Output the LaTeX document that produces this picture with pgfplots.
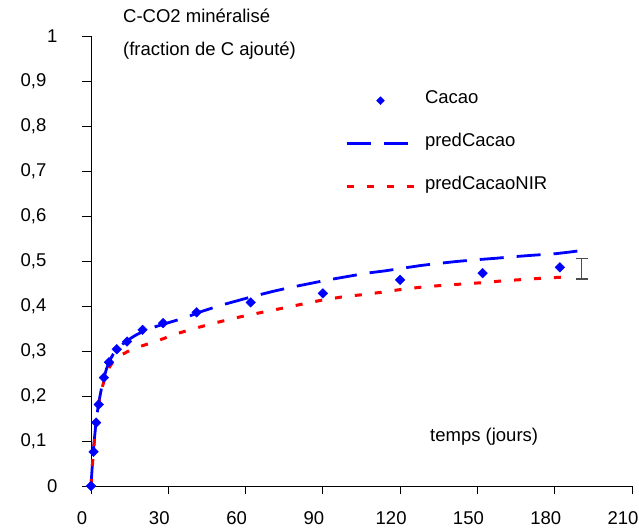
\documentclass[border=0pt]{standalone}
\usepackage{fontspec}
\setmainfont{Liberation Sans}
\usepackage{pgfplots}
\pgfplotsset{compat=1.18}
\pgfplotsset{
  mymarklegend/.style={legend image code/.code={\path (0bp,0bp) (68bp,0bp);
    \draw[##1, mark size=2.8bp] plot coordinates {(34bp,0bp)};}},
  mylinelegend/.style={legend image code/.code={\draw[##1] (0bp,0bp) -- (68bp,0bp);}},
}
\begin{document}
\fontsize{18.5bp}{22bp}\selectfont
\begin{tikzpicture}
\useasboundingbox (-91bp,-43bp) rectangle (548bp,486bp);
\begin{axis}[
  at={(0,0)}, anchor=south west,
  scale only axis, width=541bp, height=450bp,
  xmin=0, xmax=210, ymin=0, ymax=1,
  axis x line*=bottom, axis y line*=left,
  axis line style={-, black, line width=0.9bp},
  xtick={0,30,60,90,120,150,180,210},
  ytick={0,0.1,0.2,0.3,0.4,0.5,0.6,0.7,0.8,0.9,1},
  yticklabels={0,{0,1\kern11bp},{0,2\kern11bp},{0,3\kern11bp},{0,4\kern11bp},
    {0,5\kern11bp},{0,6\kern11bp},{0,7\kern11bp},{0,8\kern11bp},{0,9\kern11bp},1},
  tick align=outside, major tick length=8.5bp,
  tick style={black, line width=0.9bp},
  /pgf/number format/1000 sep={},
  /pgf/number format/assume math mode=true,
  xticklabel style={inner sep=0pt, xshift=-9bp},
  yticklabel style={inner sep=0pt},
  xticklabel shift=17bp,
  yticklabel shift=25bp,
  clip=false,
  legend cell align=left,
  legend style={draw=none, fill=none, inner sep=0pt, outer sep=0pt,
    at={(0.4695,0.8704)}, anchor=north west,
    row sep=30.2bp, column sep=9bp,
    nodes={inner sep=0pt, text height=9bp, text depth=3.8bp}},
]
\addplot[only marks, mark=square*, mark size=3.4bp,
  mark options={rotate=45, fill=blue, draw=blue}, mymarklegend]
coordinates {
(0,0) (1,0.076) (2,0.141) (3,0.181) (5,0.241) (7,0.275) (10,0.304)
(14,0.321) (20,0.347) (28,0.362) (41,0.386) (62,0.408) (90,0.428)
(120,0.458) (152,0.473) (182,0.486)
};
\addlegendentry{Cacao}
\addplot[blue, line width=2.8bp, dash pattern=on 24bp off 13bp, mark=none, mylinelegend]
coordinates {
(0,0) (0.5,0.045) (1,0.085) (2,0.145) (3,0.185) (4,0.215) (5,0.240)
(6,0.260) (7,0.275) (8.5,0.292) (10,0.303) (12,0.314) (14,0.323)
(17,0.334) (20,0.343) (25,0.354) (30.7,0.364) (36.5,0.374) (43,0.388)
(50,0.401) (57,0.412) (64,0.423) (71,0.433) (78,0.442) (85,0.450)
(92,0.458) (100,0.466) (107,0.473) (114,0.478) (121,0.484) (128,0.490)
(135.5,0.495) (142,0.499) (150,0.503) (157,0.506) (165,0.510)
(172,0.513) (180,0.516) (186,0.520) (190,0.523)
};
\addlegendentry{predCacao}
\addplot[red, line width=3bp, dash pattern=on 7bp off 13bp, mark=none, mylinelegend]
coordinates {
(0,0) (0.5,0.043) (1,0.080) (1.6,0.118) (2.4,0.160) (3.2,0.190)
(4.5,0.222) (5.5,0.243) (6.7,0.260) (8.5,0.276) (11.3,0.290) (15,0.301)
(19,0.310) (26,0.323) (33,0.338) (42,0.353) (50,0.365) (58,0.376)
(65.6,0.385) (73.4,0.394) (81.8,0.404) (89.6,0.413) (97.3,0.420)
(105,0.425) (113.5,0.431) (120.6,0.437) (128.4,0.442) (136.8,0.446)
(144.5,0.449) (152.3,0.452) (160,0.456) (168,0.459) (176,0.462)
(186,0.465)
};
\addlegendentry{predCacaoNIR}
\addplot[black!70, mark=none, forget plot,
  error bars/.cd, y dir=both, y explicit, error mark=-,
  error bar style={draw=black!70, line width=1.3bp, solid},
  error mark options={draw=black!70, line width=1.3bp, mark size=6bp, rotate=90}]
coordinates {(190.5,0.483) +- (0,0.023)};
\node[anchor=base west, inner sep=0pt] at (axis description cs:0.0591,1.0296) {C-CO2 minéralisé};
\node[anchor=base west, inner sep=0pt] at (axis description cs:0.0591,0.9562) {(fraction de C ajouté)};
\node[anchor=base west, inner sep=0pt] at (axis description cs:0.6266,0.0978) {temps (jours)};
\end{axis}
\end{tikzpicture}
\end{document}
